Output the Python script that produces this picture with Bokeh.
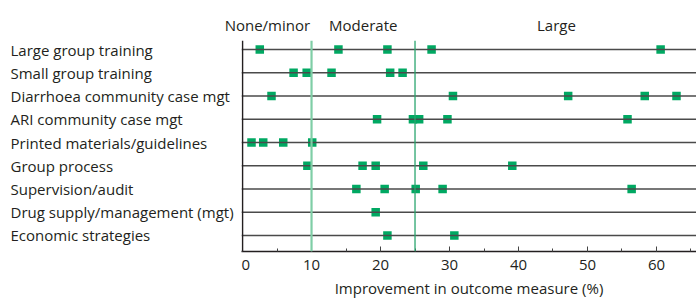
from bokeh.plotting import figure
from bokeh.models import Span, ColumnDataSource, FixedTicker, Range1d
from bokeh.layouts import row, column
from bokeh.core.properties import value
from bokeh.embed import file_html
from bokeh.resources import INLINE

categories = [
    "Large group training",
    "Small group training",
    "Diarrhoea community case mgt",
    "ARI community case mgt",
    "Printed materials/guidelines",
    "Group process",
    "Supervision/audit",
    "Drug supply/management (mgt)",
    "Economic strategies",
]
values = [
    [2.5, 13.9, 21.0, 27.4, 60.6],
    [7.4, 9.3, 12.9, 21.4, 23.2],
    [4.2, 30.5, 47.2, 58.3, 62.9],
    [19.5, 24.7, 25.6, 29.7, 55.8],
    [1.3, 3.0, 5.9, 10.1],
    [9.4, 17.4, 19.3, 26.2, 39.1],
    [16.5, 20.6, 25.1, 29.0, 56.4],
    [19.3],
    [21.0, 30.7],
]
thresholds = [10, 25]
bands = ["None/minor", "Moderate", "Large"]
band_centres = [3.6, 17.5, 45.5]
x_ticks = [0, 10, 20, 30, 40, 50, 60]
x_title = "Improvement in outcome measure (%)"

FONT = "Open Sans"
TEXT = "#231f20"
GREEN = "#00a862"
W, H, TOP, BOTTOM = 696, 302, 40, 51
LEFT_W = 241
X0, X1 = -0.15, 65.8

n = len(categories)
ypos = [n - i for i in range(n)]
yr = Range1d(0.31, 9.39)

xs, ys = [], []
for yy, vals in zip(ypos, values):
    for v in vals:
        xs.append(v)
        ys.append(yy)
src = ColumnDataSource(dict(x=xs, y=ys))

def bare(fig):
    fig.axis.visible = False
    fig.grid.visible = False
    fig.outline_line_color = None

# ---- header strip with band names ----
scale = (W - LEFT_W) / (X1 - X0)
hp = figure(width=W, height=TOP, output_backend="svg", toolbar_location=None,
            x_range=(X0 - LEFT_W / scale, X1), y_range=(0, TOP),
            min_border=0)
bare(hp)
hsrc = ColumnDataSource(dict(x=band_centres, y=[TOP - 24] * len(bands), t=bands))
hp.text("x", "y", text="t", source=hsrc, text_font=value(FONT),
        text_font_size="15px", text_color=TEXT, text_align="center",
        text_baseline="middle")

# ---- left panel with category labels ----
lp = figure(width=LEFT_W, height=H - TOP, output_backend="svg",
            toolbar_location=None, x_range=(0, LEFT_W), y_range=yr,
            min_border=0, min_border_bottom=BOTTOM)
bare(lp)
lsrc = ColumnDataSource(dict(x=[10] * n, y=ypos, t=categories))
lp.text("x", "y", text="t", source=lsrc, text_font=value(FONT),
        text_font_size="15px", text_color=TEXT, text_align="left",
        text_baseline="middle")

# ---- main panel ----
p = figure(width=W - LEFT_W, height=H - TOP, output_backend="svg",
           toolbar_location=None, x_range=(X0, X1), y_range=yr,
           min_border=0, min_border_bottom=BOTTOM)
p.outline_line_color = None
p.grid.visible = False
p.yaxis.visible = False

for yy in ypos:
    p.add_layout(Span(location=yy, dimension="width", line_color="#4a4a4a",
                      line_width=1.6))

p.add_layout(Span(location=0, dimension="height", line_color="#231f20",
                  line_width=1.5))
p.add_layout(Span(location=thresholds[0], dimension="height",
                  line_color="#7fcea6", line_width=2.2))
p.add_layout(Span(location=thresholds[1], dimension="height",
                  line_color="#2aa56e", line_width=1.3))

p.scatter("x", "y", source=src, marker="square", size=8.5,
          fill_color=GREEN, line_color=None)

xa = p.xaxis[0]
xa.ticker = FixedTicker(ticks=x_ticks, minor_ticks=list(range(0, 70, 5)))
xa.axis_line_color = "#231f20"
xa.axis_line_width = 1.5
xa.major_tick_in = 5
xa.major_tick_out = 0
xa.minor_tick_in = 3
xa.minor_tick_out = 0
xa.major_tick_line_color = "#444444"
xa.minor_tick_line_color = "#444444"
xa.major_label_text_font = FONT
xa.major_label_text_font_size = "15px"
xa.major_label_text_color = TEXT
xa.major_label_standoff = 8
xa.axis_label = x_title
xa.axis_label_text_font = FONT
xa.axis_label_text_font_size = "15px"
xa.axis_label_text_font_style = "normal"
xa.axis_label_text_color = TEXT
xa.axis_label_standoff = 5

layout = column(hp, row(lp, p, spacing=0), spacing=0)
open("out.html", "w").write(file_html(layout, INLINE))
